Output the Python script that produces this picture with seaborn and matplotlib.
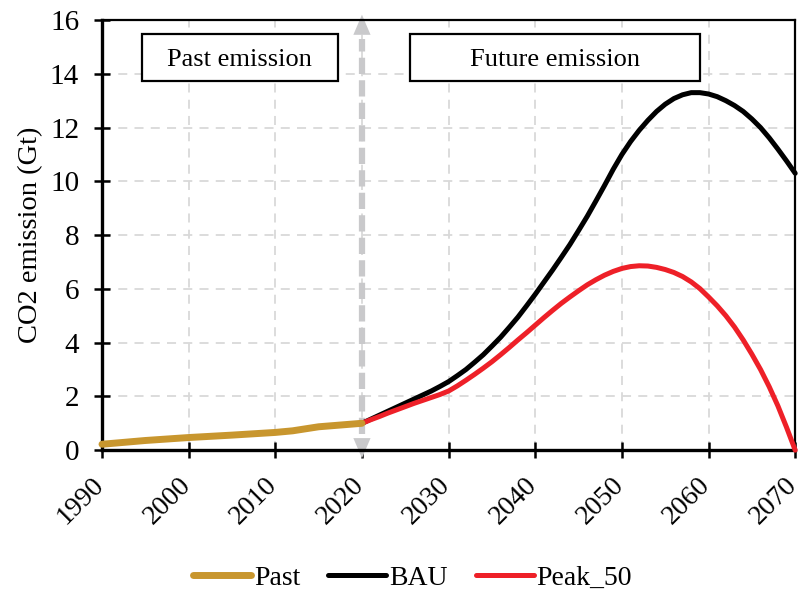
import pandas as pd
import seaborn as sns
import matplotlib.pyplot as plt
import matplotlib.transforms as mtransforms
from matplotlib.patches import Rectangle

# data
past_years = [1990, 1995, 2000, 2005, 2010, 2012, 2015, 2020]
past_values = [0.22, 0.36, 0.47, 0.56, 0.66, 0.72, 0.87, 1.0]

future_years = list(range(2020, 2071))
bau_values = [1.00, 1.15, 1.30, 1.45, 1.60, 1.75, 1.90, 2.05, 2.20, 2.37,
              2.55, 2.77, 3.00, 3.27, 3.55, 3.87, 4.20, 4.57, 4.95, 5.37,
              5.80, 6.25, 6.70, 7.17, 7.65, 8.17, 8.70, 9.27, 9.85, 10.45,
              11.00, 11.48, 11.90, 12.27, 12.60, 12.87, 13.08, 13.22, 13.30, 13.30,
              13.25, 13.15, 13.00, 12.82, 12.60, 12.32, 12.00, 11.62, 11.20, 10.76,
              10.30]
peak50_values = [1.00, 1.13, 1.25, 1.38, 1.50, 1.62, 1.74, 1.85, 1.96, 2.07,
                 2.20, 2.39, 2.60, 2.82, 3.05, 3.29, 3.55, 3.82, 4.10, 4.37,
                 4.65, 4.93, 5.20, 5.46, 5.70, 5.93, 6.15, 6.34, 6.51, 6.65,
                 6.76, 6.83, 6.86, 6.85, 6.80, 6.72, 6.61, 6.46, 6.26, 6.01,
                 5.70, 5.37, 5.00, 4.58, 4.10, 3.57, 3.00, 2.36, 1.65, 0.85,
                 0.00]

x_ticks = list(range(1990, 2071, 10))
y_ticks = list(range(0, 17, 2))

sns.set_theme(style='ticks')
plt.rcParams['font.family'] = ['Liberation Serif', 'DejaVu Serif']
for key in ['text.color', 'axes.labelcolor', 'xtick.color', 'ytick.color']:
    plt.rcParams[key] = 'black'

past_df = pd.DataFrame({'year': past_years, 'emission': past_values})
bau_df = pd.DataFrame({'year': future_years, 'emission': bau_values})
peak_df = pd.DataFrame({'year': future_years, 'emission': peak50_values})

fig = plt.figure(figsize=(8, 5.9), dpi=100)
ax = fig.add_axes([0.1275, 0.237, 0.8665, 0.729])

ax.grid(True, color='#d9d9d9', linestyle=(0, (5, 4)), linewidth=1.3)
ax.set_axisbelow(True)

# double-headed dashed arrow at 2020
arrow_col = '#c9c9cb'
ax.plot([2020, 2020], [0.6, 15.3], color=arrow_col, linewidth=4.5,
        dashes=(2.6, 1.0), solid_capstyle='butt', zorder=2)
for tip, base in [(16.2, 15.0), (-0.3, 0.9)]:
    ax.annotate('', xy=(2020, tip), xytext=(2020, base),
                arrowprops=dict(arrowstyle='-|>,head_length=1.45,head_width=0.62',
                                color=arrow_col, lw=0, mutation_scale=10,
                                shrinkA=0, shrinkB=0),
                annotation_clip=False, zorder=2)

sns.lineplot(data=past_df, x='year', y='emission', ax=ax, color='#c8962e',
             linewidth=5, label='Past', clip_on=False, zorder=4,
             solid_capstyle='round')
sns.lineplot(data=bau_df, x='year', y='emission', ax=ax, color='black',
             linewidth=3.6, label='BAU', clip_on=False, zorder=3)
sns.lineplot(data=peak_df, x='year', y='emission', ax=ax, color='#ee2028',
             linewidth=3.6, label='Peak_50', clip_on=False, zorder=3)

ax.set_xlim(1990, 2070)
ax.set_ylim(0, 16)
ax.set_xticks(x_ticks)
ax.set_yticks(y_ticks)
ax.set_xlabel('')
ax.set_ylabel('CO2 emission (Gt)', fontsize=20.5, labelpad=5)
ax.tick_params(axis='both', direction='inout', length=11, width=1.8,
               labelsize=21)
ax.tick_params(axis='x', labelsize=20, pad=17)
ax.tick_params(axis='y', pad=11)
shift = mtransforms.ScaledTranslation(-0.02, 0, fig.dpi_scale_trans)
for lbl in ax.get_xticklabels():
    lbl.set_rotation(45)
    lbl.set_ha('right')
    lbl.set_va('center')
    lbl.set_rotation_mode('anchor')
    lbl.set_transform(lbl.get_transform() + shift)

for side in ['left', 'bottom']:
    ax.spines[side].set_linewidth(2.4)
for side in ['top', 'right']:
    ax.spines[side].set_linewidth(1.6)
for s in ax.spines.values():
    s.set_color('black')

# label boxes
for x0, x1, txt in [(1994.6, 2017.2, 'Past emission'),
                    (2025.6, 2059.0, 'Future emission')]:
    ax.add_patch(Rectangle((x0, 13.75), x1 - x0, 1.75, facecolor='white',
                           edgecolor='black', linewidth=1.6, zorder=5))
    ax.text((x0 + x1) / 2, 14.52, txt, ha='center', va='center',
            fontsize=19, zorder=6)

ax.legend(loc='center', bbox_to_anchor=(0.448, -0.297), ncol=3,
          frameon=False, fontsize=20, handlelength=2.1, handletextpad=0.1,
          columnspacing=1.0)

fig.savefig('out.png', dpi=100)
